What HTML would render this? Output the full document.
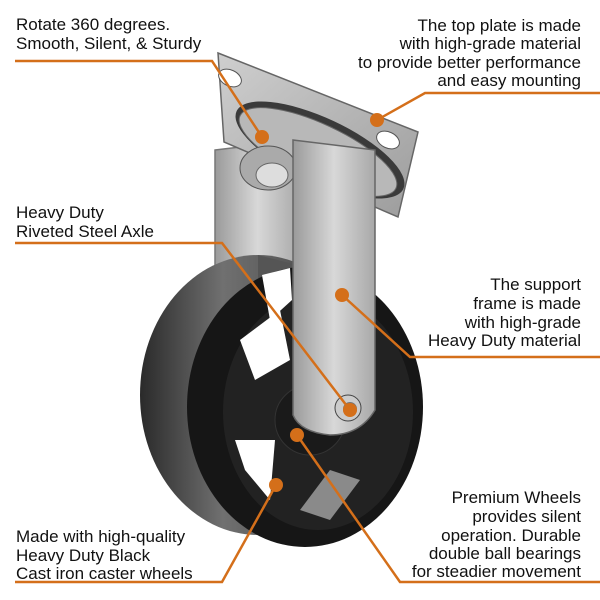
<!DOCTYPE html>
<html><head><meta charset="utf-8"><style>
html,body{margin:0;padding:0;background:#fff;}
svg{display:block;}
text{font-family:"Liberation Sans",Arial,sans-serif;font-size:17px;fill:#111;}
</style></head><body>
<svg width="600" height="600" viewBox="0 0 600 600" xmlns="http://www.w3.org/2000/svg">
<defs>
<linearGradient id="tire" x1="0" y1="0" x2="1" y2="0">
<stop offset="0" stop-color="#2a2a2a"/><stop offset="0.35" stop-color="#707070"/><stop offset="1" stop-color="#3a3a3a"/>
</linearGradient>
<linearGradient id="steel" x1="0" y1="0" x2="1" y2="0">
<stop offset="0" stop-color="#9a9a9a"/><stop offset="0.5" stop-color="#d8d8d8"/><stop offset="1" stop-color="#a8a8a8"/>
</linearGradient>
<linearGradient id="plate" x1="0" y1="0" x2="1" y2="1">
<stop offset="0" stop-color="#cfcfcf"/><stop offset="1" stop-color="#9c9c9c"/>
</linearGradient>
</defs>

<!-- back leg -->
<path d="M215 150 L300 140 L300 300 L215 300 Z" fill="url(#steel)" stroke="#777" stroke-width="1.5"/>
<!-- top plate -->
<path d="M218 53 L418 132 L398 217 L224 142 Z" fill="url(#plate)" stroke="#666" stroke-width="1.5"/>
<ellipse cx="230" cy="78" rx="12" ry="8" transform="rotate(25 230 78)" fill="#fff" stroke="#555"/>
<ellipse cx="388" cy="140" rx="12" ry="8" transform="rotate(25 388 140)" fill="#fff" stroke="#555"/>
<!-- swivel dome -->
<ellipse cx="320" cy="150" rx="92" ry="32" transform="rotate(25 320 150)" fill="#3a3a3a"/>
<ellipse cx="318" cy="152" rx="86" ry="28" transform="rotate(25 318 152)" fill="#b8b8b8" stroke="#666"/>
<ellipse cx="268" cy="168" rx="28" ry="22" fill="#aaa" stroke="#555"/>
<ellipse cx="272" cy="175" rx="16" ry="12" fill="#ddd" stroke="#666"/>

<!-- tire cylinder -->
<ellipse cx="258" cy="395" rx="118" ry="140" fill="url(#tire)"/>
<path d="M258 255 L305 267 L305 547 L258 535 Z" fill="#555"/>
<ellipse cx="305" cy="407" rx="118" ry="140" fill="#161616"/>
<!-- inner openings -->
<ellipse cx="318" cy="412" rx="95" ry="118" fill="#222"/>
<path d="M240 340 L280 310 L290 360 L255 380 Z" fill="#fff"/>
<path d="M235 440 L275 440 L270 500 L245 470 Z" fill="#fff"/>
<path d="M300 510 L330 470 L360 480 L330 520 Z" fill="#8a8a8a"/>
<path d="M262 275 L290 268 L292 300 L270 320 Z" fill="#fff"/>
<circle cx="310" cy="420" r="35" fill="#1a1a1a" stroke="#333"/>

<!-- front plate -->
<path d="M293 140 L375 150 L375 410 Q360 435 330 435 Q300 432 293 415 Z" fill="url(#steel)" stroke="#666" stroke-width="1.5"/>
<circle cx="348" cy="408" r="13" fill="#ccc" stroke="#444"/>
<circle cx="350" cy="409" r="7" fill="#777"/>

<!-- annotation lines -->
<g stroke="#d46f1a" stroke-width="2.5" fill="none">
<polyline points="15,61 212,61 262,137"/>
<polyline points="377,120 425,93 600,93"/>
<polyline points="15,243 222,243 350,410"/>
<polyline points="342,295 410,357 600,357"/>
<polyline points="15,582 222,582 276,485"/>
<polyline points="297,435 400,582 600,582"/>
</g>
<g fill="#d46f1a">
<circle cx="262" cy="137" r="7"/>
<circle cx="377" cy="120" r="7"/>
<circle cx="350" cy="410" r="7"/>
<circle cx="342" cy="295" r="7"/>
<circle cx="276" cy="485" r="7"/>
<circle cx="297" cy="435" r="7"/>
</g>

<!-- text -->
<text x="16" y="30">Rotate 360 degrees.</text>
<text x="16" y="49">Smooth, Silent, &amp; Sturdy</text>
<g text-anchor="end">
<text x="581" y="31">The top plate is made</text>
<text x="581" y="49">with high-grade material</text>
<text x="581" y="68">to provide better performance</text>
<text x="581" y="86">and easy mounting</text>
<text x="581" y="290">The support</text>
<text x="581" y="309">frame is made</text>
<text x="581" y="328">with high-grade</text>
<text x="581" y="346">Heavy Duty material</text>
<text x="581" y="503">Premium Wheels</text>
<text x="581" y="522">provides silent</text>
<text x="581" y="541">operation. Durable</text>
<text x="581" y="559">double ball bearings</text>
<text x="581" y="577">for steadier movement</text>
</g>
<text x="16" y="218">Heavy Duty</text>
<text x="16" y="237">Riveted Steel Axle</text>
<text x="16" y="542">Made with high-quality</text>
<text x="16" y="561">Heavy Duty Black</text>
<text x="16" y="579">Cast iron caster wheels</text>
</svg>
</body></html>
